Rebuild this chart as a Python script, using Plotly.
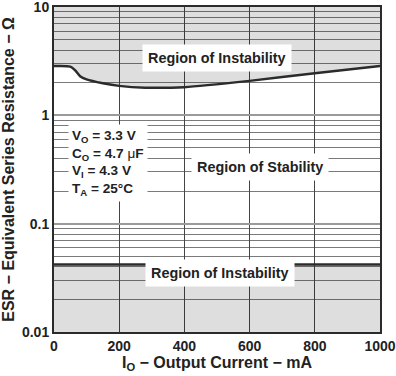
import plotly.graph_objects as go

# ---- data ----
current_ma = [0, 50, 65, 80, 100, 150, 200, 280, 400, 600, 800, 1000]
esr_upper = [2.85, 2.82, 2.6, 2.3, 2.15, 1.98, 1.87, 1.8, 1.82, 2.08, 2.45, 2.85]
esr_lower_limit = 0.042
esr_axis_max = 10
esr_axis_min = 0.01
x_ticks = [0, 200, 400, 600, 800, 1000]
y_ticks = [0.01, 0.1, 1, 10]
y_tick_labels = ["0.01", "0.1", "1", "10"]
y_minor = [m * d for d in (0.01, 0.1, 1) for m in range(2, 10)]

FONT = "Liberation Sans, Arial, Helvetica, sans-serif"
SHADE = "rgba(0,0,0,0.13)"
DARK = "#2b2b2b"

fig = go.Figure()

# upper instability region (curve -> top)
fig.add_trace(go.Scatter(x=current_ma, y=[esr_axis_max] * len(current_ma),
                         mode="lines", line=dict(width=0), hoverinfo="skip",
                         showlegend=False))
fig.add_trace(go.Scatter(x=current_ma, y=esr_upper, mode="lines",
                         line=dict(color=DARK, width=2.5, shape="spline", smoothing=0.6),
                         fill="tonexty", fillcolor=SHADE, showlegend=False))

# lower instability region (bottom -> limit)
x_span = [current_ma[0], current_ma[-1]]
fig.add_trace(go.Scatter(x=x_span, y=[esr_axis_min] * 2, mode="lines",
                         line=dict(width=0), hoverinfo="skip", showlegend=False))
fig.add_trace(go.Scatter(x=x_span, y=[esr_lower_limit] * 2, mode="lines",
                         line=dict(color=DARK, width=2.5),
                         fill="tonexty", fillcolor=SHADE, showlegend=False))

region_font = dict(family=FONT, size=14.4, color="#222")
param_font = dict(family=FONT, size=13.6, color="#222")

fig.add_annotation(x=500, y=0.885, xref="x", yref="paper",
                   text="<b>Region of Instability</b>", showarrow=False,
                   font=region_font, bgcolor="white", borderpad=5)
fig.add_annotation(x=632, y=0.507, xref="x", yref="paper",
                   text="<b>Region of Stability</b>", showarrow=False,
                   font=region_font, bgcolor="white", borderpad=5)
fig.add_annotation(x=510, y=0.137, xref="x", yref="paper",
                   text="<b>Region of Instability</b>", showarrow=False,
                   font=region_font, bgcolor="white", borderpad=5)
fig.add_annotation(x=42, y=0.64, xref="x", yref="paper", xanchor="left", yanchor="top",
                   align="left",
                   text=("<b>V<sub>O</sub> = 3.3 V</b><br>"
                         "<b>C<sub>O</sub> = 4.7 </b>μ<b>F</b><br>"
                         "<b>V<sub>I</sub> = 4.3 V</b><br>"
                         "<b>T<sub>A</sub> = 25°C</b>"),
                   showarrow=False, font=param_font, bgcolor="white", borderpad=3)

fig.update_layout(
    width=396, height=376,
    margin=dict(l=54, r=16, t=7, b=44),
    paper_bgcolor="white", plot_bgcolor="white",
    font=dict(family=FONT, size=14, color="#222"),
    xaxis=dict(range=[0, 1000], tickvals=x_ticks,
               ticktext=[f"<b>{v}</b>" for v in x_ticks],
               tickfont=dict(size=14), ticklabeloverflow="allow",
               showgrid=True, gridcolor="#444", gridwidth=1,
               showline=True, linecolor=DARK, linewidth=2, mirror=True,
               ticks="", zeroline=False, automargin=False,
               title=dict(text="<b>I<sub>O</sub> − Output Current − mA</b>",
                          font=dict(size=16), standoff=4)),
    yaxis=dict(type="log", range=[-2, 1], tickvals=y_ticks,
               ticktext=[f"<b>{t}</b>" for t in y_tick_labels],
               tickfont=dict(size=14), ticklabeloverflow="allow",
               showgrid=True, gridcolor="#9a9a9a", gridwidth=1.5,
               minor=dict(tickmode="array", tickvals=y_minor, showgrid=True,
                          gridcolor="#7a7a7a", gridwidth=1, ticks=""),
               showline=True, linecolor=DARK, linewidth=2, mirror=True,
               ticks="", zeroline=False, automargin=False,
               title=dict(text="<b>ESR − Equivalent Series Resistance − Ω</b>",
                          font=dict(size=16), standoff=4)),
)

fig.write_html("out.html", config={"displayModeBar": False},
               post_script="document.body.style.margin='0';")
